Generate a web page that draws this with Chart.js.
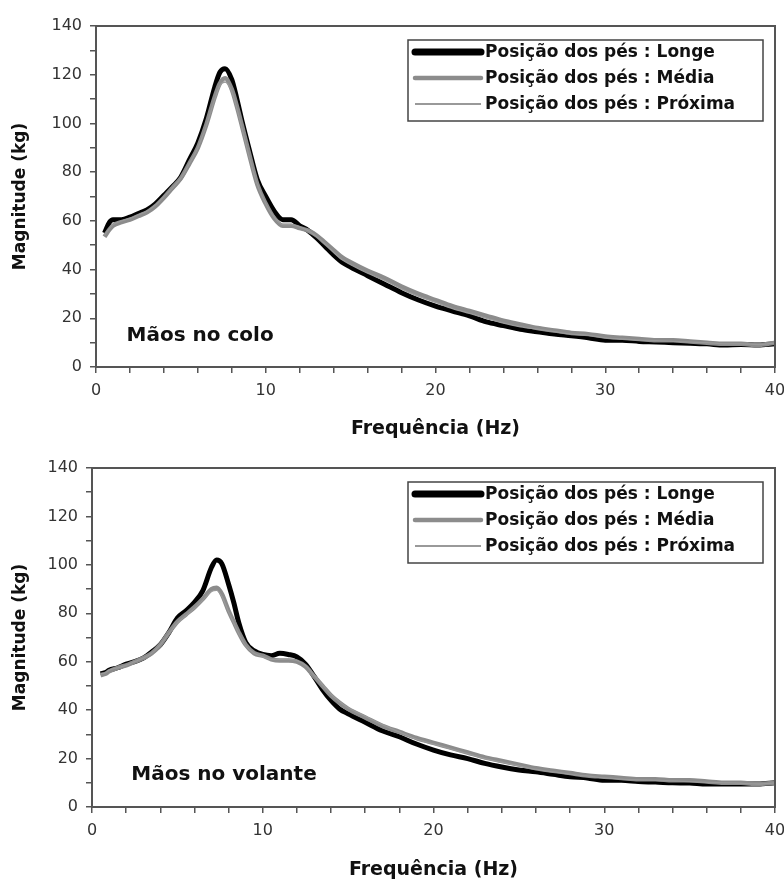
<!DOCTYPE html>
<html>
<head>
<meta charset="utf-8">
<script src="https://cdn.jsdelivr.net/npm/chart.js@4.4.0/dist/chart.umd.min.js"></script>
<style>
    body { margin: 0; background: #fff; }
    .panel { position: absolute; left: 0; width: 784px; height: 441px; }
</style>
</head>
<body>
<div class="panel" style="top:0"><canvas id="coloChart" width="784" height="441"></canvas></div>
<div class="panel" style="top:441px"><canvas id="volanteChart" width="784" height="441"></canvas></div>
<script>
// frequencies (Hz) shared by every curve
const freq = [0.5, 0.8, 1, 1.5, 2, 2.5, 3, 3.5, 4, 4.5, 5, 5.5, 6, 6.5, 7, 7.3, 7.6, 8, 8.3, 8.6, 9,
    9.5, 10, 10.5, 11, 11.5, 12, 12.5, 13, 13.5, 14, 14.5, 15,
    16, 17, 18, 19, 20, 21, 22, 23, 24, 25, 26, 27, 28, 29, 30, 31, 32, 33, 34, 35, 36, 37, 38, 39, 40];

// Mãos no colo
const coloLonge = [55, 59.5, 60.5, 60.5, 61.5, 63, 64.5, 67, 70.5, 74, 78, 85, 92, 102, 115, 121, 122.5, 118, 110, 101, 90,
    77, 70, 64, 60.5, 60.5, 58, 56, 53, 49.5, 46, 43, 41,
    37.5, 34, 30.5, 27.5, 25, 23, 21, 18.5, 17, 15.5, 14.5, 13.5, 12.8, 12, 11, 11, 10.5, 10.3, 10, 9.8, 9.5, 9, 9.2, 9, 9.5];
const coloMedia = [53.5, 56.5, 58, 59.5, 60.5, 62, 63.5, 66, 69.5, 73.5, 77.5, 83.5, 90, 99.5, 111, 116.5, 118.5, 114, 107, 99, 88,
    75, 67, 61, 58, 58, 57, 56, 54, 51, 48, 45, 43,
    39.5, 36.5, 33, 30, 27.5, 25, 23, 21, 19, 17.5, 16, 15, 14, 13.5, 12.5, 12, 11.5, 11, 11, 10.5, 10, 9.5, 9.5, 9, 10];
const coloProxima = [54, 57, 58.5, 60, 61, 62.5, 64, 66.5, 70, 73.5, 77.5, 83.5, 90, 99, 110, 115.5, 117, 113, 106, 98, 87,
    75, 67, 61.5, 58.5, 58.5, 57.5, 56, 53.5, 50.5, 47, 44, 42,
    38.5, 35.5, 32, 29, 26.5, 24, 22, 20, 18, 16.5, 15.5, 14.5, 13.5, 13, 12, 11.5, 11, 10.8, 10.5, 10.2, 10, 9.5, 9.5, 9.2, 9.8];

// Mãos no volante
const volanteLonge = [55, 55.5, 56.5, 57.5, 59, 60, 61.5, 64, 67, 72, 78, 81, 84.5, 89.5, 99, 102, 100.5, 92, 84.5, 76, 68,
    64.5, 63, 62.5, 63.5, 63, 62, 59, 54, 48.5, 44, 40.5, 38.5,
    35, 31.5, 29, 26, 23.5, 21.5, 20, 18, 16.5, 15.3, 14.5, 13.5, 12.5, 12, 11, 11, 10.5, 10.3, 10, 9.9, 9.5, 9.5, 9.5, 9.5, 10];
const volanteMedia = [54.5, 55, 56, 57.5, 58.5, 60, 61.5, 63.5, 67, 72, 76.5, 79.5, 82.5, 86, 90, 90.5, 88, 81, 76.5, 72, 67,
    63.5, 62.5, 61, 60.5, 60.5, 60, 58, 54, 50, 46, 43, 40.5,
    37, 33.5, 31, 28.5, 26.5, 24.5, 22.5, 20.5, 19, 17.5, 16, 15, 14, 13, 12.5, 12, 11.5, 11.5, 11, 11, 10.5, 10, 10, 9.5, 10];
const volanteProxima = [55, 55.5, 56.5, 57.5, 58.5, 60, 61.5, 63.5, 67, 71.5, 76, 79, 82, 85.5, 89, 89.5, 87, 80.5, 76, 71.5, 66.5,
    63.5, 62, 61, 61, 61, 60.5, 58.5, 54.5, 50.5, 46.5, 43.5, 41,
    37.5, 34, 31, 28, 26, 24, 22, 20, 18.5, 17, 15.5, 14.5, 13.5, 12.8, 12, 11.5, 11.2, 11, 10.8, 10.5, 10.2, 10, 9.8, 9.5, 10];

const seriesLabels = ['Posição dos pés : Longe', 'Posição dos pés : Média', 'Posição dos pés : Próxima'];

const seriesStyle = [
    { color: '#000000', width: 5 },
    { color: '#8c8c8c', width: 4.5 },
    { color: '#9a9a9a', width: 1.3 }
];

const toPoints = (values) => values.map((v, i) => ({ x: freq[i], y: v }));

// frame, legend box and panel caption
const decorPlugin = {
    id: 'decorPlugin',
    afterDraw: (chart) => {
        const ctx = chart.ctx;
        const { left, top, right, bottom } = chart.chartArea;
        const opts = chart.options.plugins.decorPlugin;

        ctx.save();
        ctx.strokeStyle = '#555';
        ctx.lineWidth = 2;
        ctx.strokeRect(left, top, right - left, bottom - top);

        // legend
        const bx = right - 367, by = top + 14, bw = 355, bh = 81;
        ctx.fillStyle = '#fff';
        ctx.fillRect(bx, by, bw, bh);
        ctx.strokeStyle = '#444';
        ctx.lineWidth = 1.5;
        ctx.strokeRect(bx, by, bw, bh);
        ctx.font = 'bold 17px "DejaVu Sans"';
        ctx.textAlign = 'left';
        ctx.textBaseline = 'middle';
        seriesLabels.forEach((label, i) => {
            const y = by + 12 + i * 26;
            ctx.strokeStyle = i === 2 ? '#777' : seriesStyle[i].color;
            ctx.lineWidth = i === 0 ? 7 : seriesStyle[i].width;
            ctx.lineCap = i === 2 ? 'butt' : 'round';
            ctx.beginPath();
            ctx.moveTo(bx + 7, y);
            ctx.lineTo(bx + 73, y);
            ctx.stroke();
            ctx.fillStyle = '#111';
            ctx.fillText(label, bx + 77, y + 1);
        });

        // caption
        const xs = chart.scales.x, ys = chart.scales.y;
        ctx.font = 'bold 20px "DejaVu Sans"';
        ctx.fillStyle = '#111';
        ctx.textBaseline = 'alphabetic';
        ctx.fillText(opts.caption, xs.getPixelForValue(opts.captionAt[0]), ys.getPixelForValue(opts.captionAt[1]));
        ctx.restore();
    }
};

function makeChart(id, values, caption, captionAt, geo) {
    const ctx = document.getElementById(id).getContext('2d');
    return new Chart(ctx, {
        type: 'line',
        data: {
            datasets: values.map((v, i) => ({
                label: seriesLabels[i],
                data: toPoints(v),
                borderColor: seriesStyle[i].color,
                borderWidth: seriesStyle[i].width,
                pointRadius: 0,
                fill: false,
                cubicInterpolationMode: 'monotone',
                order: 3 - i
            }))
        },
        options: {
            responsive: false,
            animation: false,
            layout: { padding: { top: geo.top, right: 9, left: 0, bottom: 0 } },
            scales: {
                x: {
                    type: 'linear',
                    min: 0,
                    max: 40,
                    afterFit: (s) => { s.height = geo.xHeight; s.paddingRight = 0; s.paddingLeft = 0; },
                    grid: { drawOnChartArea: false, drawTicks: true, tickLength: 6, color: '#555', lineWidth: 1.5 },
                    border: { display: true, color: '#555', width: 2 },
                    ticks: {
                        stepSize: 2,
                        autoSkip: false,
                        maxRotation: 0,
                        padding: 8,
                        color: '#333',
                        font: { family: 'DejaVu Sans', size: 16 },
                        callback: (v) => (v % 10 === 0 ? v : '')
                    },
                    title: {
                        display: true,
                        text: 'Frequência (Hz)',
                        color: '#111',
                        font: { family: 'DejaVu Sans', size: 19, weight: 'bold' },
                        padding: { top: 0, bottom: geo.xTitlePad }
                    }
                },
                y: {
                    min: 0,
                    max: 140,
                    afterFit: (s) => { s.width = geo.yWidth; },
                    grid: { drawOnChartArea: false, drawTicks: true, tickLength: 6, color: '#555', lineWidth: 1.5 },
                    border: { display: true, color: '#555', width: 2 },
                    ticks: {
                        stepSize: 10,
                        autoSkip: false,
                        padding: 8,
                        color: '#333',
                        font: { family: 'DejaVu Sans', size: 16 },
                        callback: (v) => (v % 20 === 0 ? v : '')
                    },
                    title: {
                        display: true,
                        text: 'Magnitude (kg)',
                        color: '#111',
                        font: { family: 'DejaVu Sans', size: 17, weight: 'bold' },
                        padding: { top: 10, bottom: 0 }
                    }
                }
            },
            plugins: {
                legend: { display: false },
                tooltip: { enabled: false },
                decorPlugin: { caption: caption, captionAt: captionAt }
            }
        },
        plugins: [decorPlugin]
    });
}

const coloChart = makeChart('coloChart', [coloLonge, coloMedia, coloProxima], 'Mãos no colo', [1.8, 10.5],
    { top: 26, yWidth: 96, xHeight: 74, xTitlePad: 1 });
const volanteChart = makeChart('volanteChart', [volanteLonge, volanteMedia, volanteProxima], 'Mãos no volante', [2.3, 11],
    { top: 27, yWidth: 92, xHeight: 75, xTitlePad: 1 });
</script>
</body>
</html>
